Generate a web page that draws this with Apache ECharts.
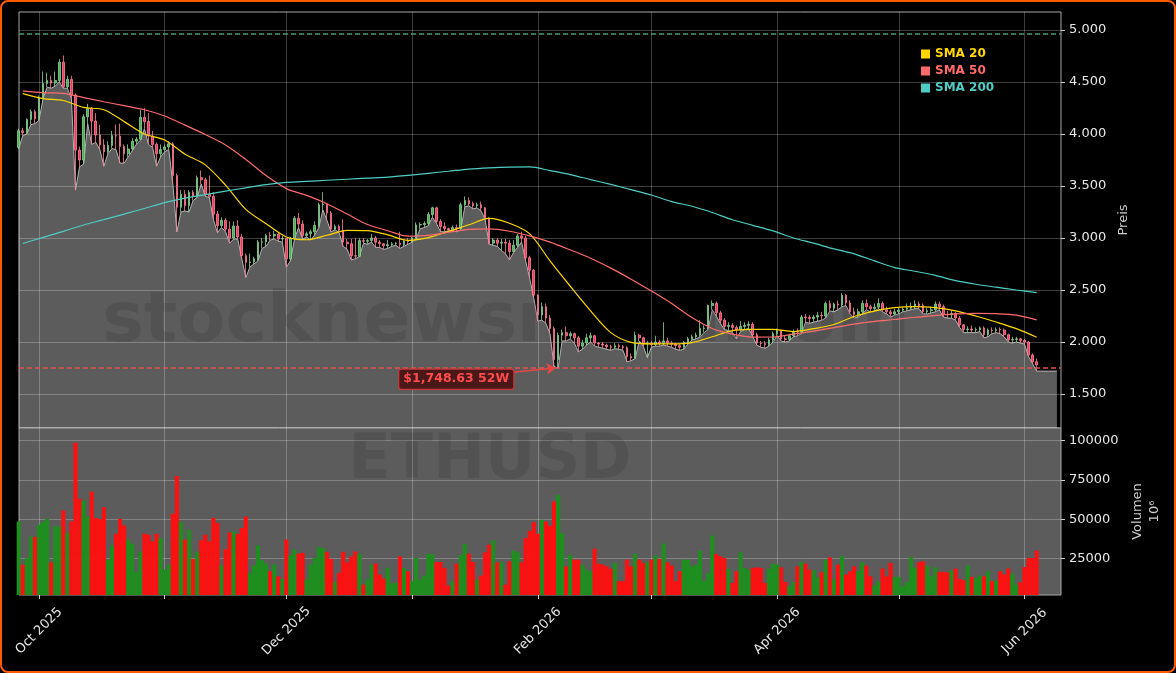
<!DOCTYPE html>
<html>
<head>
<meta charset="utf-8">
<script src="https://cdn.jsdelivr.net/npm/echarts@6.0.0/dist/echarts.min.js"></script>
<style>
  html, body { margin: 0; padding: 0; background: #000; }
  #chart { width: 1176px; height: 673px; }
</style>
</head>
<body>
<div id="chart"></div>
<script>
// ETHUSD daily, 2025-09-26 .. 2026-06-04
const opens = [
  3870, 4030, 4015, 4140, 4215, 4145, 4350, 4485, 4515, 4490,
  4515, 4690, 4455, 4525, 4375, 3845, 3750, 4165, 4245, 4125,
  3990, 3895, 3830, 3890, 3985, 3980, 3880, 3810, 3855, 3930,
  3950, 4160, 4120, 3980, 3900, 3810, 3850, 3875, 3905, 3600,
  3295, 3420, 3310, 3440, 3400, 3580, 3560, 3420, 3400, 3230,
  3120, 3170, 3085, 3000, 3115, 3010, 2830, 2765, 2770, 2800,
  2960, 2962, 3025, 3020, 3035, 2990, 2995, 2800, 3000, 3190,
  3135, 3025, 3040, 3060, 3120, 3320, 3325, 3240, 3085, 3110,
  3075, 2960, 2945, 2830, 2825, 2975, 2968, 2975, 3000, 2960,
  2945, 2925, 2935, 2945, 2950, 2935, 2970, 2965, 3000, 3125,
  3130, 3140, 3225, 3290, 3160, 3110, 3090, 3080, 3100, 3090,
  3320, 3360, 3330, 3310, 3320, 3290, 3190, 2950, 2980, 2950,
  2960, 2950, 2870, 2930, 3020, 3000, 2810, 2690, 2450, 2260,
  2340, 2230, 2130, 1830, 2065, 2090, 2060, 2080, 2040, 1960,
  1990, 2040, 2060, 1990, 1980, 1970, 1955, 1950, 1965, 1955,
  1945, 1860, 1845, 2065, 2040, 1980, 1990, 1975, 2000, 1985,
  2010, 1990, 1980, 1965, 1950, 1995, 2030, 2050, 2065, 2130,
  2135, 2350, 2370, 2280, 2210, 2150, 2160, 2140, 2120, 2150,
  2160, 2170, 2070, 1990, 1985, 1975, 2020, 2080, 2110, 2030,
  2025, 2060, 2100, 2095, 2240, 2235, 2225, 2240, 2255, 2250,
  2370, 2325, 2365, 2355, 2450, 2375, 2290, 2265, 2290, 2370,
  2340, 2320, 2335, 2370, 2310, 2290, 2270, 2290, 2305, 2315,
  2325, 2340, 2365, 2350, 2290, 2300, 2310, 2365, 2340, 2265,
  2260, 2275, 2230, 2165, 2120, 2125, 2115, 2120, 2135, 2070,
  2115, 2110, 2120, 2115, 2070, 2020, 2025, 2030, 2015, 2000,
  1875, 1810
];
const closes = [
  4030, 4015, 4140, 4215, 4145, 4350, 4485, 4515, 4490, 4515,
  4690, 4455, 4525, 4375, 3845, 3750, 4165, 4245, 4125, 3990,
  3895, 3830, 3890, 3985, 3980, 3880, 3810, 3855, 3930, 3950,
  4160, 4120, 3980, 3900, 3810, 3850, 3875, 3905, 3600, 3295,
  3420, 3310, 3440, 3400, 3580, 3560, 3420, 3400, 3230, 3120,
  3170, 3085, 3000, 3115, 3010, 2830, 2765, 2770, 2800, 2960,
  2962, 3025, 3020, 3035, 2990, 2995, 2800, 3000, 3190, 3135,
  3025, 3040, 3060, 3120, 3320, 3325, 3240, 3085, 3110, 3075,
  2960, 2945, 2830, 2825, 2975, 2968, 2975, 3000, 2960, 2945,
  2925, 2935, 2945, 2950, 2935, 2970, 2965, 3000, 3125, 3130,
  3140, 3225, 3290, 3160, 3110, 3090, 3080, 3100, 3090, 3320,
  3360, 3330, 3310, 3320, 3290, 3190, 2950, 2980, 2950, 2960,
  2950, 2870, 2930, 3020, 3000, 2810, 2690, 2450, 2260, 2340,
  2230, 2130, 1830, 2065, 2090, 2060, 2080, 2040, 1960, 1990,
  2040, 2060, 1990, 1980, 1970, 1955, 1950, 1965, 1955, 1945,
  1860, 1845, 2065, 2040, 1980, 1990, 1975, 2000, 1985, 2010,
  1990, 1980, 1965, 1950, 1995, 2030, 2050, 2065, 2130, 2135,
  2350, 2370, 2280, 2210, 2150, 2160, 2140, 2120, 2150, 2160,
  2170, 2070, 1990, 1985, 1975, 2020, 2080, 2110, 2030, 2025,
  2060, 2100, 2095, 2240, 2235, 2225, 2240, 2255, 2250, 2370,
  2325, 2365, 2355, 2450, 2375, 2290, 2265, 2290, 2370, 2340,
  2320, 2335, 2370, 2310, 2290, 2270, 2290, 2305, 2315, 2325,
  2340, 2365, 2350, 2290, 2300, 2310, 2365, 2340, 2265, 2260,
  2275, 2230, 2165, 2120, 2125, 2115, 2120, 2135, 2070, 2115,
  2110, 2120, 2115, 2070, 2020, 2025, 2030, 2015, 2000, 1875,
  1810, 1780
];
const lows = [
  3860, 3985, 4000, 4090, 4100, 4130, 4340, 4450, 4440, 4460,
  4500, 4440, 4440, 4340, 3460, 3685, 3710, 4100, 3900, 3920,
  3850, 3690, 3810, 3860, 3850, 3720, 3720, 3780, 3840, 3900,
  3940, 4050, 3900, 3870, 3690, 3780, 3830, 3850, 3520, 3060,
  3250, 3260, 3250, 3360, 3390, 3520, 3400, 3390, 3180, 3050,
  3100, 3060, 2950, 2990, 2990, 2800, 2620, 2720, 2750, 2780,
  2900, 2920, 2980, 2990, 2970, 2960, 2720, 2780, 2990, 3100,
  2990, 3010, 2980, 3030, 3100, 3270, 3170, 3060, 3080, 3050,
  2920, 2890, 2790, 2800, 2820, 2950, 2940, 2960, 2910, 2910,
  2890, 2900, 2920, 2930, 2900, 2920, 2940, 2960, 2990, 3090,
  3100, 3120, 3200, 3140, 3060, 3060, 3070, 3070, 3060, 3080,
  3300, 3310, 3280, 3290, 3260, 3180, 2940, 2930, 2920, 2880,
  2850, 2790, 2860, 2910, 2960, 2780, 2610, 2420, 2200, 2210,
  2180, 2080, 1765, 1749, 2010, 2010, 2030, 1990, 1905, 1930,
  1970, 2000, 1960, 1950, 1940, 1930, 1920, 1935, 1930, 1920,
  1810, 1820, 1840, 2010, 1960, 1850, 1950, 1960, 1960, 1970,
  1960, 1950, 1930, 1920, 1930, 1980, 2020, 2030, 2050, 2090,
  2120, 2310, 2250, 2180, 2120, 2110, 2090, 2030, 2100, 2120,
  2130, 2050, 1970, 1950, 1940, 1960, 2000, 2060, 2010, 2000,
  2010, 2050, 2060, 2080, 2190, 2180, 2190, 2200, 2210, 2230,
  2300, 2290, 2310, 2340, 2350, 2270, 2230, 2240, 2270, 2310,
  2290, 2300, 2320, 2290, 2270, 2240, 2260, 2270, 2290, 2300,
  2310, 2320, 2320, 2270, 2270, 2280, 2290, 2310, 2240, 2230,
  2230, 2210, 2140, 2090, 2090, 2090, 2090, 2100, 2040, 2050,
  2080, 2090, 2080, 2050, 2000, 1990, 2000, 1990, 1980, 1860,
  1790, 1720
];
const highs = [
  4050, 4060, 4150, 4235, 4235, 4370, 4600, 4590, 4560, 4600,
  4720, 4755, 4560, 4560, 4390, 3880, 4190, 4290, 4260, 4200,
  4090, 3950, 3930, 4030, 4090, 4100, 3900, 3900, 3960, 3970,
  4230, 4250, 4200, 4030, 3920, 3900, 3900, 3930, 3920, 3620,
  3460, 3460, 3460, 3460, 3600, 3650, 3580, 3600, 3440, 3260,
  3200, 3190, 3160, 3160, 3170, 3040, 2850, 2850, 2820, 2980,
  3000, 3040, 3060, 3070, 3050, 3020, 3000, 3010, 3210, 3240,
  3170, 3060, 3080, 3160, 3340, 3440, 3330, 3260, 3130, 3130,
  3180, 2990, 2990, 3000, 3000, 3000, 2990, 3040, 3020, 2980,
  2950, 2980, 2960, 2960, 3060, 2990, 3000, 3010, 3150, 3150,
  3160, 3250, 3300, 3300, 3180, 3150, 3100, 3120, 3130, 3340,
  3400, 3390, 3350, 3340, 3350, 3300, 3200, 3000, 3000, 2990,
  2990, 2980, 2980, 3040, 3060, 3020, 2830, 2700, 2460, 2380,
  2370, 2260, 2150, 2090, 2120, 2150, 2100, 2090, 2060, 2020,
  2080, 2090, 2070, 2000, 2000, 1985, 1975, 1990, 1985, 1970,
  1960, 1890, 2100, 2080, 2050, 2010, 2010, 2060, 2020, 2190,
  2040, 2010, 1990, 1980, 2010, 2050, 2070, 2090, 2210, 2160,
  2360, 2400, 2390, 2300, 2230, 2190, 2180, 2160, 2200, 2190,
  2200, 2190, 2090, 2010, 2010, 2040, 2100, 2130, 2120, 2060,
  2080, 2120, 2130, 2260, 2270, 2260, 2260, 2290, 2290, 2390,
  2400, 2380, 2400, 2470, 2460, 2400, 2330, 2320, 2400, 2410,
  2360, 2370, 2420, 2390, 2340, 2310, 2320, 2330, 2340, 2370,
  2380, 2400, 2390, 2370, 2330, 2340, 2390, 2390, 2360, 2300,
  2300, 2290, 2250, 2170, 2150, 2160, 2140, 2150, 2150, 2130,
  2140, 2140, 2140, 2130, 2080, 2050, 2050, 2040, 2030, 2010,
  1890, 1840
];
// volume in 10^6
const volumes = [
  48600, 21200, 25300, 39100, 38800, 46500, 48600, 50300, 22600, 45500,
  45500, 55600, 41400, 48600, 98600, 63000, 61900, 51800, 67600, 50900,
  50200, 57700, 24400, 33300, 40800, 50300, 46100, 37100, 34500, 16400,
  29600, 40800, 40200, 36000, 40800, 38100, 18000, 21200, 53500, 77500,
  48200, 37100, 43400, 24800, 29600, 36700, 40200, 36000, 50900, 47600,
  20800, 31000, 41600, 42200, 40800, 44400, 51800, 16000, 20800, 33300,
  24000, 21900, 17000, 21200, 13800, 12100, 37100, 27200, 30800, 28200,
  28700, 11800, 21200, 25400, 32400, 31800, 29300, 24800, 10000, 16000,
  29300, 22600, 26400, 29600, 28200, 8500, 11800, 21200, 21900, 14900,
  12400, 19200, 9300, 9600, 26500, 19100, 17000, 10700, 25400, 11700,
  14200, 28000, 28000, 22900, 22900, 19100, 7900, 10700, 21800, 27500,
  34300, 28200, 22900, 11700, 14200, 29000, 33900, 36600, 22700, 22700,
  8500, 23300, 30100, 29000, 22700, 38100, 42700, 48200, 40800, 49700,
  48600, 45900, 61300, 65500, 41200, 20100, 27500, 24400, 24400, 21200,
  18000, 17000, 31300, 21800, 21200, 20100, 18500, 22300, 10700, 10700,
  24400, 20100, 28200, 24400, 22300, 22700, 24400, 26900, 24800, 34500,
  22700, 20600, 10700, 17000, 24400, 24400, 20100, 21200, 30100, 10700,
  15900, 39600, 27900, 26500, 25400, 18500, 9600, 17000, 29000, 19100,
  18000, 19100, 19500, 19100, 9600, 18500, 21800, 21200, 19500, 10200,
  7500, 10200, 20100, 22900, 21800, 18000, 17600, 13200, 16300, 24400,
  25800, 11700, 21200, 26500, 14900, 17000, 20100, 17000, 22700, 20600,
  13800, 8100, 10700, 18700, 13800, 22300, 13400, 13400, 7500, 10200,
  26100, 19100, 22700, 23300, 20600, 13800, 19500, 16600, 16600, 16300,
  17600, 18700, 12100, 11300, 20600, 13400, 12800, 14200, 13800, 17000,
  10700, 11100, 17000, 14900, 18700, 15500, 8500, 10000, 19700, 25400,
  25400, 30100
];
// moving averages, read every 5th day starting 2025-09-27
const sma20 = [
  4388, 4340, 4322, 4256, 4233, 4119, 4000, 3942, 3806, 3703,
  3508, 3275, 3137, 3010, 2983, 3026, 3074, 3070, 3030, 2977,
  3004, 3063, 3127, 3188, 3142, 3040, 2780, 2536, 2300, 2090,
  1996, 1982, 1982, 1994, 2050, 2110, 2121, 2122, 2100, 2128,
  2168, 2245, 2296, 2330, 2340, 2331, 2300, 2250, 2192, 2128,
  2045
];
const sma50 = [
  4414, 4397, 4390, 4350, 4310, 4272, 4233, 4173, 4085, 3995,
  3895, 3755, 3600, 3475, 3410, 3330, 3230, 3130, 3070, 3018,
  3025, 3055, 3083, 3088, 3065, 3020, 2960, 2885, 2805, 2710,
  2604, 2490, 2370, 2235, 2130, 2075, 2047, 2048, 2075, 2105,
  2138, 2172, 2198, 2216, 2238, 2255, 2270, 2276, 2272, 2258,
  2212
];
const sma200 = [
  2947, 3006, 3064, 3125, 3176, 3230, 3284, 3340, 3384, 3417,
  3450, 3482, 3513, 3534, 3545, 3555, 3565, 3575, 3585, 3602,
  3622, 3642, 3663, 3675, 3682, 3683, 3648, 3610, 3562, 3515,
  3465, 3413, 3350, 3305, 3245, 3175, 3122, 3068, 3000, 2950,
  2895, 2848, 2780, 2715, 2680, 2640, 2590, 2555, 2527, 2500,
  2474
];
const high52w = 4960;
const low52w = 1748.63;
const priceTicks = [1500, 2000, 2500, 3000, 3500, 4000, 4500, 5000];
const volumeTicks = [25000, 50000, 75000, 100000];
const monthNames = ['Jan', 'Feb', 'Mar', 'Apr', 'May', 'Jun', 'Jul', 'Aug', 'Sep', 'Oct', 'Nov', 'Dec'];

const dates = closes.map((_, i) => new Date(2025, 8, 26 + i).getTime());
const smaDates = dates.filter((_, i) => i % 5 === 1);
const areaTail = new Date(2026, 5, 9).getTime();
const xMin = new Date(2025, 8, 26, 1, 40).getTime();
const xMax = new Date(2026, 5, 10).getTime();
const monthStarts = [];
for (let k = 0; k < 9; k++) monthStarts.push(new Date(2025, 9 + k, 1).getTime());
const labelMonths = monthStarts.filter((_, k) => k % 2 === 0);

const labelAt = [new Date(2026, 0, 11, 21, 30).getTime(), 1642];
const arrowFrom = [new Date(2026, 0, 25, 20, 0).getTime(), 1708];
const arrowTo = [new Date(2026, 1, 5, 9, 30).getTime(), 1750];

const UP = '#48b04f', DOWN = '#f03c5c';
const C20 = '#FFD700', C50 = '#FF6B6B', C200 = '#4ECDC4';
const GRID_LINE = 'rgba(255,255,255,0.24)';

const fmtPrice = v => String(v).replace(/\B(?=(\d{3})+(?!\d))/g, '.');
const fmtMonth = v => { const d = new Date(v); return monthNames[d.getMonth()] + ' ' + d.getFullYear(); };

const chart = echarts.init(document.getElementById('chart'));

const option = {
  backgroundColor: '#000',
  animation: false,
  textStyle: { fontFamily: 'DejaVu Sans' },
  grid: [
    { left: 19, top: 12, width: 1042, height: 416, show: true, backgroundColor: '#000', borderColor: '#a8a8a8', borderWidth: 1 },
    { left: 19, top: 428, width: 1042, height: 167, show: true, backgroundColor: '#5c5c5c', borderColor: '#a8a8a8', borderWidth: 1 }
  ],
  legend: {
    data: [
      { name: 'SMA 20', textStyle: { color: C20 } },
      { name: 'SMA 50', textStyle: { color: C50 } },
      { name: 'SMA 200', textStyle: { color: C200 } }
    ],
    orient: 'vertical',
    left: 921,
    top: 48,
    padding: 0,
    itemWidth: 9,
    itemHeight: 9,
    itemGap: 5,
    icon: 'rect',
    textStyle: { fontSize: 12, fontWeight: 'bold', fontFamily: 'DejaVu Sans' }
  },
  xAxis: [
    {
      type: 'value', gridIndex: 0, min: xMin, max: xMax,
      axisLine: { show: false },
      axisTick: { show: false, customValues: monthStarts },
      axisLabel: { show: false },
      splitLine: { show: true, lineStyle: { color: GRID_LINE, width: 1 } }
    },
    {
      type: 'value', gridIndex: 1, min: xMin, max: xMax,
      axisLine: { show: false },
      axisTick: { show: true, length: 4, customValues: monthStarts, lineStyle: { color: '#cccccc' } },
      axisLabel: {
        show: true, customValues: labelMonths, rotate: 45, align: 'center', verticalAlign: 'middle',
        margin: 36, color: '#e6e6e6', fontSize: 13, formatter: fmtMonth
      },
      splitLine: { show: true, lineStyle: { color: GRID_LINE, width: 1 } }
    }
  ],
  yAxis: [
    {
      type: 'value', gridIndex: 0, position: 'right', min: 1173, max: 5173,
      axisLine: { show: false },
      axisTick: { show: true, length: 4, customValues: priceTicks, lineStyle: { color: '#cccccc' } },
      axisLabel: { customValues: priceTicks, formatter: fmtPrice, color: '#e6e6e6', fontSize: 13, margin: 8 },
      splitLine: { show: true, lineStyle: { color: GRID_LINE, width: 1 } },
      name: 'Preis', nameLocation: 'middle', nameRotate: 90, nameGap: 55,
      nameTextStyle: { color: '#cccccc', fontSize: 13 }
    },
    {
      type: 'value', gridIndex: 1, position: 'right', min: 1900, max: 108000,
      axisLine: { show: false },
      axisTick: { show: true, length: 4, customValues: volumeTicks, lineStyle: { color: '#cccccc' } },
      axisLabel: { customValues: volumeTicks, formatter: v => String(v), color: '#e6e6e6', fontSize: 13, margin: 8 },
      splitLine: { show: true, lineStyle: { color: GRID_LINE, width: 1 } },
      name: 'Volumen\n10⁶', nameLocation: 'middle', nameRotate: 90, nameGap: 59,
      nameTextStyle: { color: '#cccccc', fontSize: 13, lineHeight: 17 }
    }
  ],
  series: [
    {
      name: 'Low', type: 'line', xAxisIndex: 0, yAxisIndex: 0, z: 1, silent: true,
      symbol: 'none',
      data: dates.map((t, i) => [t, lows[i]]).concat([[areaTail, lows[lows.length - 1]]]),
      lineStyle: { color: '#b4b4b4', width: 1 },
      areaStyle: { color: 'rgba(255,255,255,0.36)', opacity: 1, origin: 'start' }
    },
    {
      name: 'ETHUSD', type: 'candlestick', xAxisIndex: 0, yAxisIndex: 0, z: 3,
      data: dates.map((t, i) => [t, opens[i], closes[i], lows[i], highs[i]]),
      itemStyle: { color: UP, color0: DOWN, borderColor: '#8ed494', borderColor0: '#ff8298', borderWidth: 0.8 },
      markLine: {
        silent: true, symbol: ['none', 'none'], label: { show: false },
        data: [
          { yAxis: high52w, lineStyle: { color: '#4a9d6b', type: [5, 3], width: 1.5 } },
          { yAxis: low52w, lineStyle: { color: '#e05252', type: [5, 3], width: 1.5 } },
          [
            { coord: arrowFrom, symbol: 'none', lineStyle: { color: '#e84545', type: 'solid', width: 1.5 } },
            { coord: arrowTo, symbol: 'arrow', symbolSize: 9, lineStyle: { color: '#e84545', type: 'solid', width: 1.5 } }
          ]
        ]
      },
      markPoint: {
        silent: true,
        data: [{
          coord: labelAt, symbol: 'rect', symbolSize: 1, itemStyle: { color: 'rgba(0,0,0,0)' },
          label: {
            show: true, position: 'inside', formatter: '$1,748.63 52W',
            color: '#ff4d4d', fontSize: 12.5, fontWeight: 'bold',
            backgroundColor: '#4a1818', borderColor: '#cc3636', borderWidth: 1.2, borderRadius: 2,
            padding: [3, 4]
          }
        }]
      }
    },
    {
      name: 'SMA 20', type: 'line', xAxisIndex: 0, yAxisIndex: 0, z: 4, symbol: 'none', smooth: 0.3,
      data: smaDates.map((t, i) => [t, sma20[i]]),
      itemStyle: { color: C20 }, lineStyle: { color: C20, width: 1.2 }
    },
    {
      name: 'SMA 50', type: 'line', xAxisIndex: 0, yAxisIndex: 0, z: 4, symbol: 'none', smooth: 0.3,
      data: smaDates.map((t, i) => [t, sma50[i]]),
      itemStyle: { color: C50 }, lineStyle: { color: C50, width: 1.2 }
    },
    {
      name: 'SMA 200', type: 'line', xAxisIndex: 0, yAxisIndex: 0, z: 4, symbol: 'none', smooth: 0.3,
      data: smaDates.map((t, i) => [t, sma200[i]]),
      itemStyle: { color: C200 }, lineStyle: { color: C200, width: 1.2 }
    },
    {
      name: 'Volumen', type: 'bar', xAxisIndex: 1, yAxisIndex: 1, barWidth: 4.1,
      data: dates.map((t, i) => ({
        value: [t, volumes[i]],
        itemStyle: { color: closes[i] >= opens[i] ? '#1e8f1e' : '#ff1010' }
      }))
    }
  ],
  graphic: [
    {
      type: 'text', x: 506, y: 323, z: 2, silent: true,
      style: { text: 'stocknewsroom.com', font: 'bold 70px "DejaVu Sans"', fill: 'rgba(0,0,0,0.1)', align: 'center', verticalAlign: 'middle' }
    },
    {
      type: 'text', x: 490, y: 462, z: 2, silent: true,
      style: { text: 'ETHUSD', font: 'bold 62px "DejaVu Sans"', fill: 'rgba(0,0,0,0.1)', align: 'center', verticalAlign: 'middle' }
    },
    {
      type: 'rect', z: 100, silent: true,
      shape: { x: 1, y: 1, width: 1174, height: 671, r: 7 },
      style: { fill: 'none', stroke: '#ff5a00', lineWidth: 2 }
    }
  ]
};

chart.setOption(option);
</script>
</body>
</html>
